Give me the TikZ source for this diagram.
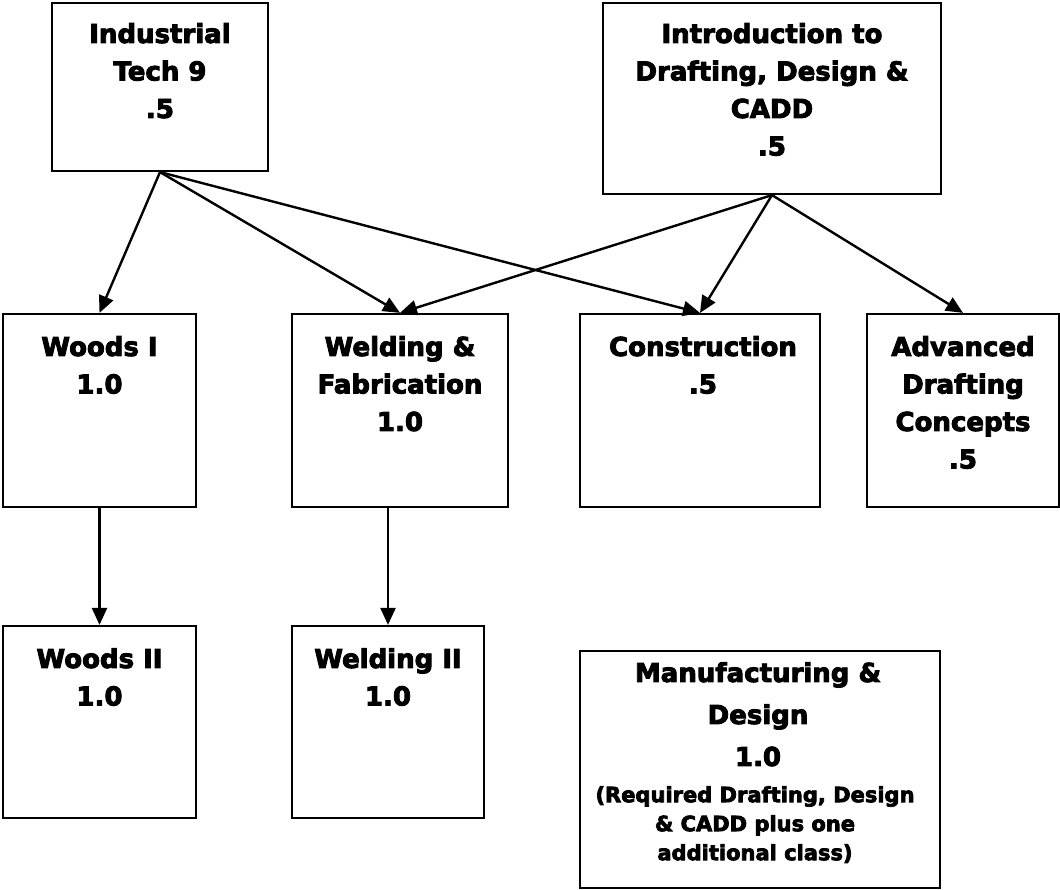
\documentclass[tikz,border=0pt]{standalone}
\usepackage{fontspec}
\setmainfont{DejaVu Sans}
\newfontfamily\heavy{DejaVu Sans}[BoldFeatures={FakeBold=3.5}]
\usetikzlibrary{arrows.meta}
\begin{document}
\begin{tikzpicture}[x=1pt,y=-1pt,
  box/.style={draw,line width=2.2pt,rectangle,inner sep=0pt},
  big/.style={anchor=north,inner sep=0pt,align=center,font={\heavy\bfseries\fontsize{26}{37.5}\selectfont}},
  small/.style={anchor=north,inner sep=0pt,align=center,font={\heavy\bfseries\fontsize{21}{29}\selectfont}},
  arr/.style={line width=2.4pt,-{Triangle[length=17pt,width=15pt]}}]
\useasboundingbox (0,0) rectangle (1060,890);
% boxes
\node[box,minimum width=216pt,minimum height=168pt] (ind) at (160,87) {};
\node[box,minimum width=338pt,minimum height=191pt] (intro) at (772,98.5) {};
\node[box,minimum width=193pt,minimum height=193pt] (w1) at (99.5,410.5) {};
\node[box,minimum width=216pt,minimum height=193pt] (wf) at (400,410.5) {};
\node[box,minimum width=240pt,minimum height=193pt] (con) at (700,410.5) {};
\node[box,minimum width=192pt,minimum height=193pt] (adv) at (963,410.5) {};
\node[box,minimum width=193pt,minimum height=192pt] (w2) at (99.5,722) {};
\node[box,minimum width=192pt,minimum height=192pt] (wel2) at (388,722) {};
\node[box,minimum width=360pt,minimum height=237pt] (mfg) at (760,769.5) {};
% texts
\node[big] (ind-t) at (160,23) {Industrial\\Tech 9\\.5};
\node[big] (intro-t) at (772,23) {Introduction to\\Drafting, Design \&\\CADD\\.5};
\node[big] (w1-t) at (99.5,336) {Woods I\\1.0};
\node[big] (wf-t) at (400,336) {Welding \&\\Fabrication\\1.0};
\node[big] (con-t) at (703,336) {Construction\\.5};
\node[big] (adv-t) at (963,336) {Advanced\\Drafting\\Concepts\\.5};
\node[big] (w2-t) at (99.5,648) {Woods II\\1.0};
\node[big] (wel2-t) at (388,648) {Welding II\\1.0};
\node[big,font={\heavy\bfseries\fontsize{26}{42}\selectfont}] (mfg-t) at (758,662) {Manufacturing \&\\Design\\1.0};
\node[small] (mfg-s) at (755,786) {(Required Drafting, Design\\\& CADD plus one\\additional class)};
% connectors
\draw[arr] (ind.south) -- (w1.north);
\draw[arr] (ind.south) -- (wf.north);
\draw[arr] (ind.south) -- (con.north);
\draw[arr] (intro.south) -- (wf.north);
\draw[arr] (intro.south) -- (con.north);
\draw[arr] (intro.south) -- (adv.north);
\draw[arr] (w1.south) -- (w2.north);
\draw[arr] (wel2.north |- wf.south) -- (wel2.north);
\end{tikzpicture}
\end{document}
